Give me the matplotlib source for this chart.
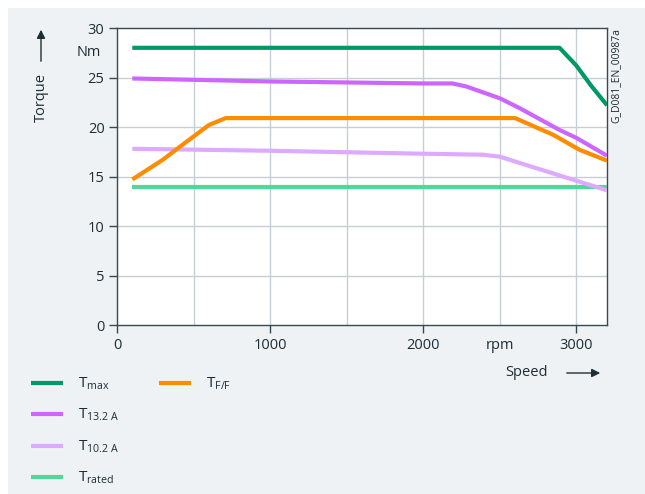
import matplotlib
matplotlib.use("Agg")
import matplotlib.pyplot as plt
from matplotlib.patches import Rectangle, FancyArrowPatch

plt.rcParams['font.family'] = ['Open Sans', 'DejaVu Sans']
plt.rcParams['mathtext.fontset'] = 'custom'
plt.rcParams['mathtext.rm'] = 'Open Sans'
plt.rcParams['mathtext.it'] = 'Open Sans'

# Data (speed in rpm, torque in Nm)
tmax_x = [100, 2890, 3000, 3100, 3200]
tmax_y = [28.0, 28.0, 26.2, 24.1, 22.2]

t132_x = [100, 1000, 2000, 2190, 2280, 2500, 2630, 2890, 3000, 3200]
t132_y = [24.9, 24.6, 24.4, 24.4, 24.1, 22.9, 21.9, 19.7, 18.9, 17.1]

t102_x = [100, 1000, 2000, 2390, 2500, 2850, 3200]
t102_y = [17.8, 17.6, 17.3, 17.2, 17.0, 15.3, 13.6]

trated_x = [100, 3200]
trated_y = [13.9, 13.9]

tff_x = [100, 300, 410, 600, 710, 2600, 2850, 3020, 3200]
tff_y = [14.7, 16.7, 18.0, 20.2, 20.9, 20.9, 19.2, 17.7, 16.6]

xtick_vals = [0, 1000, 2000, 2500, 3000]
xtick_labels = ['0', '1000', '2000', 'rpm', '3000']
ytick_vals = [0, 5, 10, 15, 20, 25, 30]

c_max = '#009966'
c_132 = '#cc66ff'
c_102 = '#ddaaff'
c_rated = '#50d898'
c_ff = '#ff8c00'
txt = '#1e2d35'
bg = '#eef2f5'
gridc = '#c5d0d6'

W, H = 645, 494
fig = plt.figure(figsize=(W / 100, H / 100), dpi=100, facecolor='white')
fig.patches.append(Rectangle((8 / W, 0), 1 - 8 / W, 1 - 8 / H, transform=fig.transFigure,
                             facecolor=bg, edgecolor='none', zorder=-10))

ax = fig.add_axes([117 / W, 1 - 325 / H, (607 - 117) / W, (325 - 28) / H])
ax.set_facecolor('white')
ax.set_xlim(0, 3200)
ax.set_ylim(0, 30)

for v in range(500, 3200, 500):
    ax.axvline(v, color=gridc, lw=1.0, zorder=1)
for v in range(5, 30, 5):
    ax.axhline(v, color=gridc, lw=1.0, zorder=1)

lw = 3.0
ax.plot(trated_x, trated_y, color=c_rated, lw=lw, solid_capstyle='butt', zorder=3)
ax.plot(t102_x, t102_y, color=c_102, lw=lw, solid_capstyle='butt', zorder=3)
ax.plot(tff_x, tff_y, color=c_ff, lw=lw, solid_capstyle='butt', zorder=4)
ax.plot(t132_x, t132_y, color=c_132, lw=lw, solid_capstyle='butt', zorder=5)
ax.plot(tmax_x, tmax_y, color=c_max, lw=lw, solid_capstyle='butt', zorder=6)

for s in ax.spines.values():
    s.set_color('#3a4950')
    s.set_linewidth(1.0)

ax.set_xticks(xtick_vals)
ax.set_xticklabels(xtick_labels)
ax.set_yticks(ytick_vals)
ax.tick_params(axis='both', colors='#3a4950', labelcolor=txt, labelsize=10.5, length=6, width=1)
ax.tick_params(axis='x', pad=3)
ax.tick_params(axis='y', pad=3)
for t in ax.xaxis.get_major_ticks():
    if t.get_loc() == 2500:
        t.tick1line.set_visible(False)

# Nm label
fig.text(101 / W, 1 - 53 / H, 'Nm', ha='right', va='center', fontsize=10.5, color=txt)

# Torque label with arrow
fig.text(41 / W, 1 - 98 / H, 'Torque', rotation=90, ha='center', va='center', fontsize=10.5, color=txt)
fig.patches.append(FancyArrowPatch((41 / W, 1 - 64 / H), (41 / W, 1 - 27 / H), transform=fig.transFigure,
                                   arrowstyle='-|>,head_length=5,head_width=2.5', color=txt, lw=1.0))

# Speed label with arrow
fig.text(548 / W, 1 - 372 / H, 'Speed', ha='right', va='center', fontsize=10.5, color=txt)
fig.patches.append(FancyArrowPatch((564 / W, 1 - 373 / H), (603 / W, 1 - 373 / H), transform=fig.transFigure,
                                   arrowstyle='-|>,head_length=5,head_width=2.5', color=txt, lw=1.0))

# Figure id
fig.text(616 / W, 1 - 28 / H, 'G_D081_EN_00987a', rotation=90, ha='center', va='top', fontsize=7.5, color=txt)

# Legend
leg = [
    (31, 383, c_max, r'T$_{\mathrm{max}}$'),
    (31, 414, c_132, r'T$_{\mathrm{13.2\ A}}$'),
    (31, 446, c_102, r'T$_{\mathrm{10.2\ A}}$'),
    (31, 477, c_rated, r'T$_{\mathrm{rated}}$'),
    (159, 383, c_ff, r'T$_{\mathrm{F/F}}$'),
]
for x0, y0, c, lab in leg:
    fig.lines.append(plt.Line2D([x0 / W, (x0 + 32) / W], [1 - y0 / H, 1 - y0 / H], transform=fig.transFigure,
                                color=c, lw=lw, solid_capstyle='butt'))
    fig.text((x0 + 47) / W, 1 - (y0 + 1) / H, lab, ha='left', va='center', fontsize=11, color=txt)

fig.savefig('out.png', dpi=100, facecolor='white')
